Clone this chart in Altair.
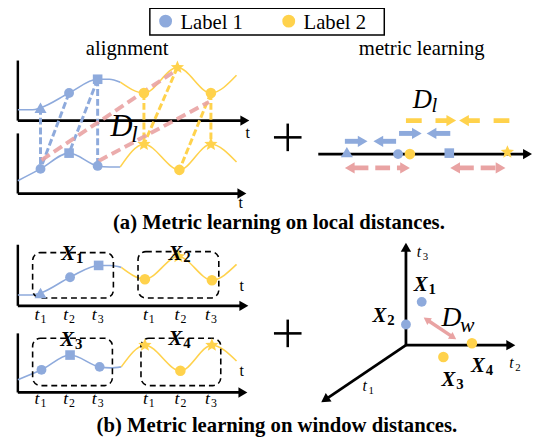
import math
import altair as alt
import pandas as pd

BLUE = "#8EAADC"
YEL = "#FFD24C"
PINK = "#E9A3A3"
INK = "#000000"
SERIF = "Liberation Serif"

# ---------------- data (pixel-like diagram units) ----------------
# (a) alignment panel: curves
a_up_blue_x = [18, 33, 41, 70, 99, 111, 122]
a_up_blue_y = [108, 108, 106, 91, 77, 77, 80]
a_up_yel_x = [122, 146, 180, 214, 240]
a_up_yel_y = [80, 91, 65, 91, 73]
a_lo_blue_x = [18, 41, 70, 99, 111, 122]
a_lo_blue_y = [180, 168, 152, 165, 166, 166]
a_lo_yel_x = [122, 146, 182, 214, 240]
a_lo_yel_y = [166, 143, 169, 143, 161]

# (b) window panel: curves
b_up_blue_x = [18, 33, 41, 71, 100, 112, 123]
b_up_blue_y = [296, 296, 294, 278, 266, 266, 268]
b_up_yel_x = [123, 147, 181, 215, 240]
b_up_yel_y = [268, 280, 257, 281, 265]
b_lo_blue_x = [18, 42, 71, 101, 112, 123]
b_lo_blue_y = [382, 372, 357, 369, 370, 369]
b_lo_yel_x = [123, 147, 183, 215, 240]
b_lo_yel_y = [369, 347, 373, 347, 363]

# markers
blue_circ_x = [70, 41, 99, 71, 42, 101, 404, 428, 412]
blue_circ_y = [91, 168, 165, 278, 372, 369, 153, 303, 326]
blue_sq_x = [99, 70, 100, 71, 456]
blue_sq_y = [77, 152, 266, 357, 152]
blue_tri_x = [41, 41, 352]
blue_tri_y = [106, 294, 151]
yel_circ_x = [146, 214, 182, 147, 215, 183, 416, 479, 450]
yel_circ_y = [91, 91, 169, 280, 281, 373, 153, 345, 359]
yel_star_x = [180, 146, 214, 181, 147, 215, 515]
yel_star_y = [65, 143, 143, 257, 347, 347, 151]

# alignment dashes
blue_dash_x1 = [41, 70, 99, 99]
blue_dash_y1 = [106, 91, 77, 77]
blue_dash_x2 = [41, 41, 70, 99]
blue_dash_y2 = [168, 168, 152, 165]
yel_dash_x1 = [146, 180, 214, 214]
yel_dash_y1 = [91, 65, 91, 91]
yel_dash_x2 = [146, 146, 182, 214]
yel_dash_y2 = [143, 143, 169, 143]
pink_dash_x1 = [42, 100]
pink_dash_y1 = [159, 160]
pink_dash_x2 = [180, 212]
pink_dash_y2 = [67, 100]

# plain axis lines (no heads) and plus signs
yaxis_x = [18, 18, 18, 18]
yaxis_y1 = [58, 132, 245, 335]
yaxis_y2 = [119, 193, 307, 395]
plus_cx = [292, 292]
plus_cy = [136, 335]

# arrows: tails and tips
axis_tail_x = [18, 18, 18, 18, 323, 412, 412, 412]
axis_tail_y = [119, 193, 307, 395, 153, 347, 347, 347]
axis_tip_x = [253, 250, 252, 251, 540, 412, 523, 326]
axis_tip_y = [119, 193, 307, 395, 153, 243, 347, 405]
blue_arr_tail_x = [350, 402, 405, 457]
blue_arr_tip_x = [373, 379, 428, 433]
blue_arr_y = [140, 140, 132, 132]
yel_arr_tail_x = [412, 517]
yel_arr_tip_x = [463, 466]
yel_arr_y = [119, 119]
pink_arr_x1 = [350, 457]
pink_arr_x2 = [416, 513]
pink_arr_y = [167, 167]
dw_x1, dw_y1, dw_x2, dw_y2 = [430], [319], [463], [341]

# dashed window boxes
box_x1 = [33, 140, 33, 143]
box_x2 = [115, 222, 114, 224]
box_y1 = [253, 252, 340, 340]
box_y2 = [299, 299, 388, 388]

# texts
title_txt = ["alignment", "metric learning"]
title_x = [129, 428]
title_y = [52, 52]
legend_txt = ["Label 1", "Label 2"]
legend_tx = [183, 308]
legend_ty = [26, 26]
legend_dot_x = [168, 293]
caption_txt = ["(a) Metric learning on local distances.",
               "(b) Metric learning on window distances."]
caption_x = [283, 281]
caption_y = [229, 435]
axis_t_x = [249, 242, 243, 243]
axis_t_y = [137, 208, 292, 378]
tick_tx = [35, 64, 93, 145, 177, 208]
tick_sub = ["1", "2", "3", "1", "2", "3"]
tick_rows = [321, 407]
t3d_x = [368, 517, 423]
t3d_y = [394, 370, 257]
t3d_sub = ["1", "2", "3"]
xl_x = [62, 171, 61, 171, 420, 378, 478, 448]
xl_y = [261, 260, 348, 347, 292, 323, 374, 388]
xl_sub = ["1", "2", "3", "4", "1", "2", "4", "3"]
d_x = [112, 419, 448]
d_y = [135, 106, 328]
d_fs = [31, 27, 28]
d_sub = ["l", "l", "w"]
d_sub_x = [133, 438, 467]
d_sub_y = [141, 110, 334]
d_sub_fs = [24, 21, 22]

STAR = ("M0,-1 L0.265,-0.364 L0.951,-0.309 L0.428,0.139 L0.588,0.809 "
        "L0,0.45 L-0.588,0.809 L-0.428,0.139 L-0.951,-0.309 L-0.265,-0.364 Z")

XS = alt.Scale(domain=[8, 542], nice=False, zero=False)
YS = alt.Scale(domain=[8, 446], nice=False, zero=False, reverse=True)


def X(f="x"):
    return alt.X(f"{f}:Q", scale=XS, axis=None)


def Y(f="y"):
    return alt.Y(f"{f}:Q", scale=YS, axis=None)


def curve(xs, ys, color):
    df = pd.DataFrame({"x": xs, "y": ys, "i": list(range(len(xs)))})
    return alt.Chart(df).mark_line(interpolate="monotone", color=color,
                                   strokeWidth=1.6).encode(
        x=X(), y=Y(), order="i:Q")


def segs(x1, y1, x2, y2, color, width, dash=None, opacity=1.0):
    df = pd.DataFrame({"x": x1, "y": y1, "x2": x2, "y2": y2})
    kw = dict(color=color, strokeWidth=width, opacity=opacity)
    if dash:
        kw["strokeDash"] = dash
    return alt.Chart(df).mark_rule(**kw).encode(
        x=X(), y=Y(), x2=alt.X2("x2:Q"), y2=alt.Y2("y2:Q"))


def pts(xs, ys, color, shape, size):
    df = pd.DataFrame({"x": xs, "y": ys})
    return alt.Chart(df).mark_point(filled=True, shape=shape, size=size,
                                    color=color, opacity=1,
                                    strokeWidth=0).encode(x=X(), y=Y())


def arrows(tx, ty, px, py, color, width, size, dash=None, both=False,
           opacity=1.0):
    h = 0.866 * math.sqrt(size) / 2
    sx1, sy1, sx2, sy2 = [], [], [], []
    hx, hy, ha = [], [], []
    for a, b, c, d in zip(tx, ty, px, py):
        L = math.hypot(c - a, d - b)
        ux, uy = (c - a) / L, (d - b) / L
        back = 2 * h - 1
        sx2.append(c - back * ux)
        sy2.append(d - back * uy)
        hx.append(c - h * ux)
        hy.append(d - h * uy)
        ha.append(math.degrees(math.atan2(ux, -uy)) % 360)
        if both:
            sx1.append(a + back * ux)
            sy1.append(b + back * uy)
            hx.append(a + h * ux)
            hy.append(b + h * uy)
            ha.append(math.degrees(math.atan2(-ux, uy)) % 360)
        else:
            sx1.append(a)
            sy1.append(b)
    shaft = segs(sx1, sy1, sx2, sy2, color, width, dash, opacity)
    hdf = pd.DataFrame({"x": hx, "y": hy, "a": ha})
    heads = alt.Chart(hdf).mark_point(filled=True, shape="triangle-up",
                                      size=size, color=color,
                                      opacity=opacity,
                                      strokeWidth=0).encode(
        x=X(), y=Y(), angle=alt.Angle("a:Q", scale=None))
    return [shaft, heads]


def texts(txt, xs, ys, fs, align="left", style="normal", weight="normal"):
    if not isinstance(fs, list):
        fs = [fs] * len(txt)
    df = pd.DataFrame({"t": txt, "x": xs, "y": ys, "fs": fs})
    return alt.Chart(df).mark_text(align=align, baseline="alphabetic",
                                   font=SERIF, fontStyle=style,
                                   fontWeight=weight, color=INK).encode(
        x=X(), y=Y(), text="t:N", size=alt.Size("fs:Q", scale=None))


def rects(x1, y1, x2, y2, width, dash=None, radius=0):
    df = pd.DataFrame({"x": x1, "y": y1, "x2": x2, "y2": y2})
    kw = dict(fillOpacity=0, stroke=INK, strokeWidth=width,
              cornerRadius=radius)
    if dash:
        kw["strokeDash"] = dash
    return alt.Chart(df).mark_rect(**kw).encode(
        x=X(), y=Y(), x2=alt.X2("x2:Q"), y2=alt.Y2("y2:Q"))


layers = []
# legend
layers.append(rects([152], [5], [390], [32], 1.5))
layers.append(pts([legend_dot_x[0]], [18], BLUE, "circle", 170))
layers.append(pts([legend_dot_x[1]], [18], YEL, "circle", 170))
layers.append(texts(legend_txt, legend_tx, legend_ty, 21))
layers.append(texts(title_txt, title_x, title_y, 21, align="center"))
layers.append(texts(caption_txt, caption_x, caption_y, 21, align="center",
                    weight="bold"))

# axes
layers.append(segs(yaxis_x, yaxis_y1, yaxis_x, yaxis_y2, INK, 2.5))
layers += arrows(axis_tail_x, axis_tail_y, axis_tip_x, axis_tip_y, INK, 2.8,
                 110)
layers.append(texts(["t"] * 4, axis_t_x, axis_t_y, 16))

# plus signs
layers.append(segs([c - 14 for c in plus_cx], plus_cy,
                   [c + 14 for c in plus_cx], plus_cy, INK, 2.6))
layers.append(segs(plus_cx, [c - 14 for c in plus_cy],
                   plus_cx, [c + 14 for c in plus_cy], INK, 2.6))

# curves
for xs_, ys_, col in [(a_up_blue_x, a_up_blue_y, BLUE),
                      (a_up_yel_x, a_up_yel_y, YEL),
                      (a_lo_blue_x, a_lo_blue_y, BLUE),
                      (a_lo_yel_x, a_lo_yel_y, YEL),
                      (b_up_blue_x, b_up_blue_y, BLUE),
                      (b_up_yel_x, b_up_yel_y, YEL),
                      (b_lo_blue_x, b_lo_blue_y, BLUE),
                      (b_lo_yel_x, b_lo_yel_y, YEL)]:
    layers.append(curve(xs_, ys_, col))

# window boxes
layers.append(rects(box_x1, box_y1, box_x2, box_y2, 1.6, [6, 4], 8))

# alignment dashes
layers.append(segs(blue_dash_x1, blue_dash_y1, blue_dash_x2, blue_dash_y2,
                   BLUE, 3, [7, 3]))
layers.append(segs(yel_dash_x1, yel_dash_y1, yel_dash_x2, yel_dash_y2,
                   YEL, 3, [7, 3]))
layers.append(segs(pink_dash_x1, pink_dash_y1, pink_dash_x2, pink_dash_y2,
                   PINK, 4, [10, 5], 0.9))

# metric learning arrows
layers += arrows(blue_arr_tail_x, blue_arr_y, blue_arr_tip_x, blue_arr_y,
                 BLUE, 5, 130)
layers += arrows(yel_arr_tail_x, yel_arr_y, yel_arr_tip_x, yel_arr_y,
                 YEL, 5, 130, dash=[16, 14])
layers += arrows(pink_arr_x1, pink_arr_y, pink_arr_x2, pink_arr_y,
                 PINK, 5, 130, dash=[15, 7], both=True)
layers += arrows(dw_x1, dw_y1, dw_x2, dw_y2, PINK, 3.5, 70, both=True)

# markers
layers.append(pts(blue_circ_x, blue_circ_y, BLUE, "circle", 100))
layers.append(pts(blue_sq_x, blue_sq_y, BLUE, "square", 95))
layers.append(pts(blue_tri_x, blue_tri_y, BLUE, "triangle-up", 150))
layers.append(pts(yel_circ_x, yel_circ_y, YEL, "circle", 115))
layers.append(pts(yel_star_x, yel_star_y, YEL, STAR, 200))

# math labels
layers.append(texts(["D"] * 3, d_x, d_y, d_fs, style="italic"))
layers.append(texts(d_sub, d_sub_x, d_sub_y, d_sub_fs, style="italic"))
tick_x_all = tick_tx + tick_tx
tick_y_all = [tick_rows[0]] * 6 + [tick_rows[1]] * 6
layers.append(texts(["t"] * 12, tick_x_all, tick_y_all, 18, style="italic"))
layers.append(texts(tick_sub + tick_sub, [v + 6 for v in tick_x_all],
                    [v + 3 for v in tick_y_all], 12))
layers.append(texts(["t"] * 3, t3d_x, t3d_y, 16, style="italic"))
layers.append(texts(t3d_sub, [v + 6 for v in t3d_x], [v + 3 for v in t3d_y],
                    11))
layers.append(texts(["X"] * 8, xl_x, xl_y, 21, style="italic", weight="bold"))
layers.append(texts(xl_sub, [v + 15 for v in xl_x], [v + 3 for v in xl_y], 15,
                    weight="bold"))

chart = alt.layer(*layers).properties(
    width=534, height=438, padding=0, autosize="none", background="white"
).configure_view(strokeWidth=0)

chart.save("out.html", embed_options={"renderer": "svg", "actions": False})
